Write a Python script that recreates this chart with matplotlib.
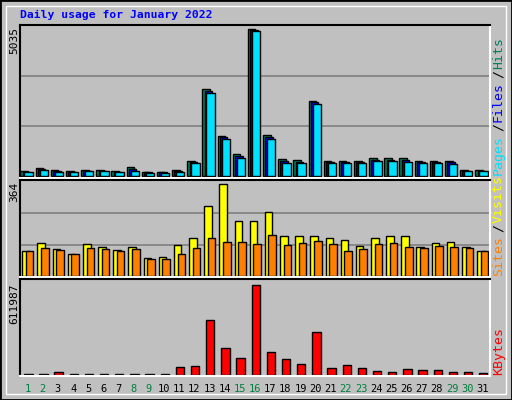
import matplotlib
matplotlib.use("Agg")
import matplotlib.pyplot as plt
from matplotlib.patches import Rectangle

days = list(range(1, 32))
weekend = [1, 2, 8, 9, 15, 16, 22, 23, 29, 30]
hits = [171,274,205,171,205,205,171,308,137,137,205,514,2980,1370,754,5035,1404,582,548,2569,514,514,514,617,617,617,514,514,514,205,205]
files = [150,240,180,150,185,185,150,250,120,120,180,480,2920,1330,700,5000,1340,520,490,2520,470,470,470,560,560,560,470,470,470,180,180]
pages = [120,200,140,130,160,160,130,170,100,100,140,440,2850,1280,620,4960,1260,460,430,2470,430,430,430,500,500,490,430,430,420,160,160]
visits = [98,129,106,86,125,114,102,114,70,74,121,149,278,364,219,219,254,160,160,157,149,141,117,149,160,160,114,129,133,114,98]
sites = [98,110,102,86,110,106,98,106,67,67,86,110,149,133,133,125,164,121,129,137,125,98,106,125,129,114,110,117,114,110,98]
kbytes = [6800,6800,20400,6800,6800,6800,6800,6800,6800,6800,54400,61200,374000,183600,115600,611987,156400,108800,74800,292400,47600,68000,47600,27200,20400,40800,34000,34000,20400,20400,13600]

BG = "#c0c0c0"
fig = plt.figure(figsize=(5.12, 4.0), dpi=100, facecolor=BG)
fig.patches.append(Rectangle((0, 0), 1, 1, transform=fig.transFigure, fill=False, ec="black", lw=2))
fig.patches.append(Rectangle((6/512, 6/400), 500/512, 388/400, transform=fig.transFigure, fill=False, ec="white", lw=1))
mono = {"family": "DejaVu Sans Mono"}

fig.text(20/512, 1-15/400, "Daily usage for January 2022", color="#0000ff",
         fontsize=8.2, fontweight="bold", va="center", **mono)

L, W = 20/512, 470/512
def mkax(top, bot, ymax_val, base_px, top_px):
    ax = fig.add_axes([L, 1-bot/400, W, (bot-top)/400])
    ax.set_facecolor(BG)
    scale = ymax_val / (base_px - top_px)
    ax.set_ylim(-(bot - base_px)*scale, (base_px - top)*scale)
    ax.set_xlim(0.5, 31.5)
    ax.set_xticks([]); ax.set_yticks([])
    for s in ["top", "left"]:
        ax.spines[s].set_color("black"); ax.spines[s].set_linewidth(1.5)
    for s in ["bottom", "right"]:
        ax.spines[s].set_color("white"); ax.spines[s].set_linewidth(1.5)
    return ax

ax1 = mkax(25, 178, 5035, 176, 29)
ax2 = mkax(180, 277, 364, 276, 184)
ax3 = mkax(279, 376, 611987, 375, 285)

for ax, top in [(ax1, 5035), (ax2, 364)]:
    for f in (1/3, 2/3):
        ax.axhline(top*f*1.02, color="#808080", lw=1.2, zorder=0)

ec = dict(edgecolor="black", linewidth=1)
ax1.bar([d-0.22 for d in days], hits, width=0.5, color="#00805c", align="center", **ec)
ax1.bar([d-0.07 for d in days], files, width=0.5, color="#0000ff", align="center", **ec)
ax1.bar([d+0.07 for d in days], pages, width=0.55, color="#00e0ff", align="center", **ec)
ax2.bar([d-0.1 for d in days], visits, width=0.5, color="#ffff00", align="center", **ec)
ax2.bar([d+0.14 for d in days], sites, width=0.5, color="#ff8000", align="center", **ec)
ax3.bar([d+0.05 for d in days], kbytes, width=0.55, color="#ff0000", align="center", **ec)

for ax, lab, tp in [(ax1, "5035", 27), (ax2, "364", 182), (ax3, "611987", 283)]:
    fig.text(14/512, 1-tp/400, lab, rotation=90, ha="center", va="top", fontsize=8, **mono)

def side(ax, parts, start_px):
    hpx = ax.get_position().height*400
    y = start_px/hpx
    cw = 8.8/hpx
    for txt, col in parts:
        ax.text(1.018, y, txt, transform=ax.transAxes, rotation=90, ha="center", va="bottom",
                color=col, fontsize=9.5, **mono)
        y += cw*len(txt)

side(ax1, [("Pages", "#00e0ff"), ("/", "black"), ("Files", "#0000ff"), ("/", "black"), ("Hits", "#00805c")], 3)
side(ax2, [("Sites", "#ff8000"), ("/", "black"), ("Visits", "#ffff00")], 1)
side(ax3, [("KBytes", "#ff0000")], 1)

for d in days:
    x = L + W*(d-0.5)/31
    fig.text(x, 1-389/400, str(d), ha="center", va="center", fontsize=7.5,
             color="#008040" if d in weekend else "black", **mono)

fig.savefig("out.png", dpi=100, facecolor=BG)
